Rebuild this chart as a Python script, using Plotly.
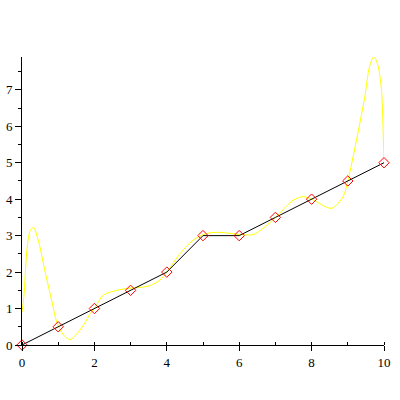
import plotly.graph_objects as go

# Data points (black polyline + diamonds)
pt_x = [0, 1, 2, 3, 4, 5, 6, 7, 8, 9, 10]
pt_y = [0, 0.5, 1, 1.5, 2, 3, 3, 3.5, 4, 4.5, 5]

# Yellow curve
curve_x = [0.0, 0.05, 0.14, 0.23, 0.32, 0.46, 0.64, 0.83, 0.96, 1.15, 1.33, 1.56, 1.73, 1.88,
           2.0, 2.25, 2.62, 2.9, 3.26, 3.54, 3.81, 4.0, 4.37, 4.73, 5.1, 5.47, 6.02, 6.39,
           6.66, 7.0, 7.49, 7.77, 8.02, 8.55, 8.87, 9.0, 9.24, 9.47, 9.6, 9.72, 9.83, 9.93,
           9.97, 10.0]
curve_y = [0.9, 1.3, 2.65, 3.15, 3.22, 2.83, 2.0, 1.18, 0.63, 0.27, 0.15, 0.36, 0.59, 0.86,
           1.0, 1.37, 1.50, 1.55, 1.58, 1.63, 1.78, 2.0, 2.51, 2.88, 3.06, 3.09, 3.03, 3.03,
           3.2, 3.5, 3.97, 4.07, 3.99, 3.75, 4.07, 4.5, 5.62, 6.81, 7.64, 7.91, 7.68, 7.0,
           6.08, 5.0]

x_tickvals = [0, 2, 4, 6, 8, 10]
y_tickvals = [0, 1, 2, 3, 4, 5, 6, 7]

fig = go.Figure()
fig.add_trace(go.Scatter(x=curve_x, y=curve_y, mode="lines",
                         line=dict(color="#ffff00", width=1, shape="spline", smoothing=0.8),
                         hoverinfo="skip", cliponaxis=False))
fig.add_trace(go.Scatter(x=pt_x, y=pt_y, mode="lines",
                         line=dict(color="black", width=1), cliponaxis=False))
fig.add_trace(go.Scatter(x=pt_x, y=pt_y, mode="markers", cliponaxis=False,
                         marker=dict(symbol="diamond-open", size=8, color="red",
                                     line=dict(color="red", width=1))))

font = dict(family="Liberation Serif", size=13, color="black")
fig.update_layout(
    width=400, height=400,
    margin=dict(l=22, r=16, t=57, b=55),
    paper_bgcolor="white", plot_bgcolor="white",
    showlegend=False,
    xaxis=dict(range=[0, 10], tickvals=x_tickvals, ticktext=[str(v) for v in x_tickvals],
               automargin=False,
               showline=True, linecolor="black", linewidth=1, showgrid=False, zeroline=False,
               ticks="outside", ticklen=5, tickcolor="black", tickfont=font,
               minor=dict(dtick=1, ticks="inside", ticklen=3, tickcolor="black")),
    yaxis=dict(range=[0, 7.9], tickvals=y_tickvals, ticktext=[str(v) for v in y_tickvals],
               automargin=False,
               showline=True, linecolor="black", linewidth=1, showgrid=False, zeroline=False,
               ticks="outside", ticklen=6, tickcolor="black", tickfont=font,
               minor=dict(dtick=0.5, ticks="outside", ticklen=3, tickcolor="black")),
)

fig.write_html("out.html",
               config={"displayModeBar": False, "staticPlot": True},
               post_script="document.body.style.margin='0';document.body.style.overflow='hidden';")
